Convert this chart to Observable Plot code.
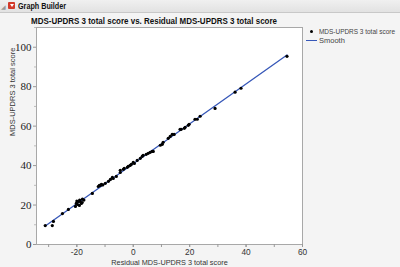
<!DOCTYPE html>
<html>
<head>
<meta charset="utf-8">
<script src="https://cdn.jsdelivr.net/npm/d3@7"></script>
<script src="https://cdn.jsdelivr.net/npm/@observablehq/plot@0.6"></script>
<style>
  html, body { margin: 0; padding: 0; }
  body { width: 400px; height: 267px; background: #f4f4f4; position: relative; overflow: hidden; font-family: "Liberation Sans", Arial, sans-serif; }
  #hdr { position: absolute; left: 0; top: 0; width: 400px; height: 12px; background: linear-gradient(#f0f0f0, #e2e2e2); border-bottom: 1px solid #c8c8c8; }
  #hdr .tri { position: absolute; left: 1px; top: 3px; font-size: 6px; color: #999; }
  #hdr .btn { position: absolute; left: 8px; top: 2px; width: 7px; height: 7px; background: #d23a2a; border-radius: 1px; }
  #hdr .btn:after { content: ""; position: absolute; left: 1.5px; top: 2px; border-left: 2px solid transparent; border-right: 2px solid transparent; border-top: 3px solid #fff; }
  #hdr .lbl { position: absolute; left: 18px; top: 0px; font-size: 9.5px; font-weight: bold; color: #111; transform-origin: 0 0; }
  #title { position: absolute; left: 31px; top: 14.5px; font-size: 9.6px; font-weight: bold; color: #111; white-space: nowrap; transform-origin: 0 0; }
  #chart { position: absolute; left: 0; top: 25px; }
  #legend { position: absolute; left: 306px; top: 27px; font-size: 7.5px; color: #444; line-height: 9px; }
  #legend .row { position: relative; height: 9px; white-space: nowrap; }
  #legend .txt { position: absolute; left: 13px; top: 0; transform-origin: 0 0; }
  #legend .dot { position: absolute; left: 4px; top: 3px; width: 3px; height: 3px; border-radius: 50%; background: #000; }
  #legend .ln { position: absolute; left: 0px; top: 4px; width: 11px; height: 1.3px; background: #3657b8; }
</style>
</head>
<body>
<div id="hdr"><span class="tri">◢</span><span class="btn"></span><span class="lbl" id="hl">Graph Builder</span></div>
<div id="title">MDS-UPDRS 3 total score vs. Residual MDS-UPDRS 3 total score</div>
<div id="chart"></div>
<div id="legend">
  <div class="row"><span class="dot"></span><span class="txt" id="lg1">MDS-UPDRS 3 total score</span></div>
  <div class="row"><span class="ln"></span><span class="txt">Smooth</span></div>
</div>
<script>
// Residual MDS-UPDRS 3 total score (x)
const residual = [
  -31.2, -28.7, -28.3, -25.1, -23.0, -20.2, -19.8, -19.5, -19.1, -18.8, -18.4, -18.1, -20.5,
  -19.0, -20.0, -17.5, -18.0,
  -14.5, -12.4, -11.7, -11.3, -12.0, -10.8, -9.9, -8.8, -8.1, -7.4, -7.1, -6.0,
  -4.6, -4.6, -3.5, -3.2, -2.1, -1.8, -1.1, -0.7, 0.0, 0.4, 1.4, 2.5, 3.2, 3.5, 4.6,
  5.3, 6.0, 6.7, 7.1, 9.6, 10.3, 10.6, 12.4, 13.1, 13.8, 14.5, 16.6, 17.0, 18.1, 18.4,
  19.5, 19.8, 21.9, 22.7, 23.7, 29.0, 36.1, 38.2, 54.5
];
// MDS-UPDRS 3 total score (y)
const score = [
  9.6, 9.6, 11.7, 15.7, 17.8, 20.8, 20.3, 21.8, 19.8, 21.8, 20.8, 21.3, 19.3,
  22.5, 22.0, 22.5, 23.0,
  25.9, 29.4, 29.9, 30.5, 30.0, 30.2, 31.0, 32.0, 33.0, 34.0, 33.5, 34.5,
  36.5, 37.6, 38.1, 38.6, 39.1, 39.6, 40.1, 40.6, 41.6, 41.1, 42.6, 43.7, 44.7, 45.2, 45.7,
  46.2, 46.7, 47.2, 47.2, 50.3, 50.8, 51.8, 53.8, 54.8, 55.8, 55.8, 58.4, 58.4, 58.9, 59.4,
  60.4, 60.9, 63.5, 63.5, 65.0, 69.0, 77.2, 79.2, 95.4
];
const xMajorTicks = [-20, 0, 20, 40, 60];
const xMinorTicks = [-30, -20, -10, 0, 10, 20, 30, 40, 50, 60];
const yTicks = [0, 20, 40, 60, 80, 100];
const yMinorTicks = [10, 30, 50, 70, 90, 110];

const data = residual.map((r, i) => ({residual: r, score: score[i]}));

const plot = Plot.plot({
  width: 400,
  height: 242,
  marginLeft: 36,
  marginRight: 98,
  marginTop: 2,
  marginBottom: 23,
  style: {background: "transparent", fontFamily: "Liberation Sans, Arial, sans-serif"},
  x: {domain: [-34.3, 60]},
  y: {domain: [0, 110]},
  marks: [
    Plot.frame({fill: "white", stroke: "#a8a8a8"}),
    Plot.axisX({ticks: xMinorTicks, tickSize: 3, stroke: "#999", text: null, label: null}),
    Plot.axisX({ticks: xMajorTicks, tickSize: 3, stroke: "#999", tickPadding: 2, fontSize: 8.3, fill: "#333",
      tickFormat: d => String(d), label: null}),
    Plot.axisY({ticks: yMinorTicks, tickSize: 2, stroke: "#bbb", text: null, label: null}),
    Plot.axisY({ticks: yTicks, tickSize: 3, stroke: "#999", tickPadding: 2, fontSize: 11,
      fontFamily: "Liberation Serif, Times New Roman, serif", fill: "#222",
      tickFormat: d => String(d), label: null}),
    Plot.text(["Residual MDS-UPDRS 3 total score"], {frameAnchor: "bottom", dy: 20, fontSize: 7.3, fill: "#333"}),
    Plot.text(["MDS-UPDRS 3 total score"], {frameAnchor: "left", dx: -24, rotate: -90, fontSize: 7.5, fill: "#333"}),
    Plot.linearRegressionY(data, {x: "residual", y: "score", ci: 0, stroke: "#3657b8", strokeWidth: 1.3}),
    Plot.dot(data, {x: "residual", y: "score", r: 1.6, fill: "#000", stroke: null})
  ]
});
document.getElementById("chart").appendChild(plot);

function fit(el, w) {
  const cur = el.getBoundingClientRect().width;
  if (cur > 0) el.style.transform = "scaleX(" + (w / cur) + ")";
}
fit(document.getElementById("title"), 246);
fit(document.getElementById("lg1"), 76);
fit(document.getElementById("hl"), 48);
</script>
</body>
</html>
